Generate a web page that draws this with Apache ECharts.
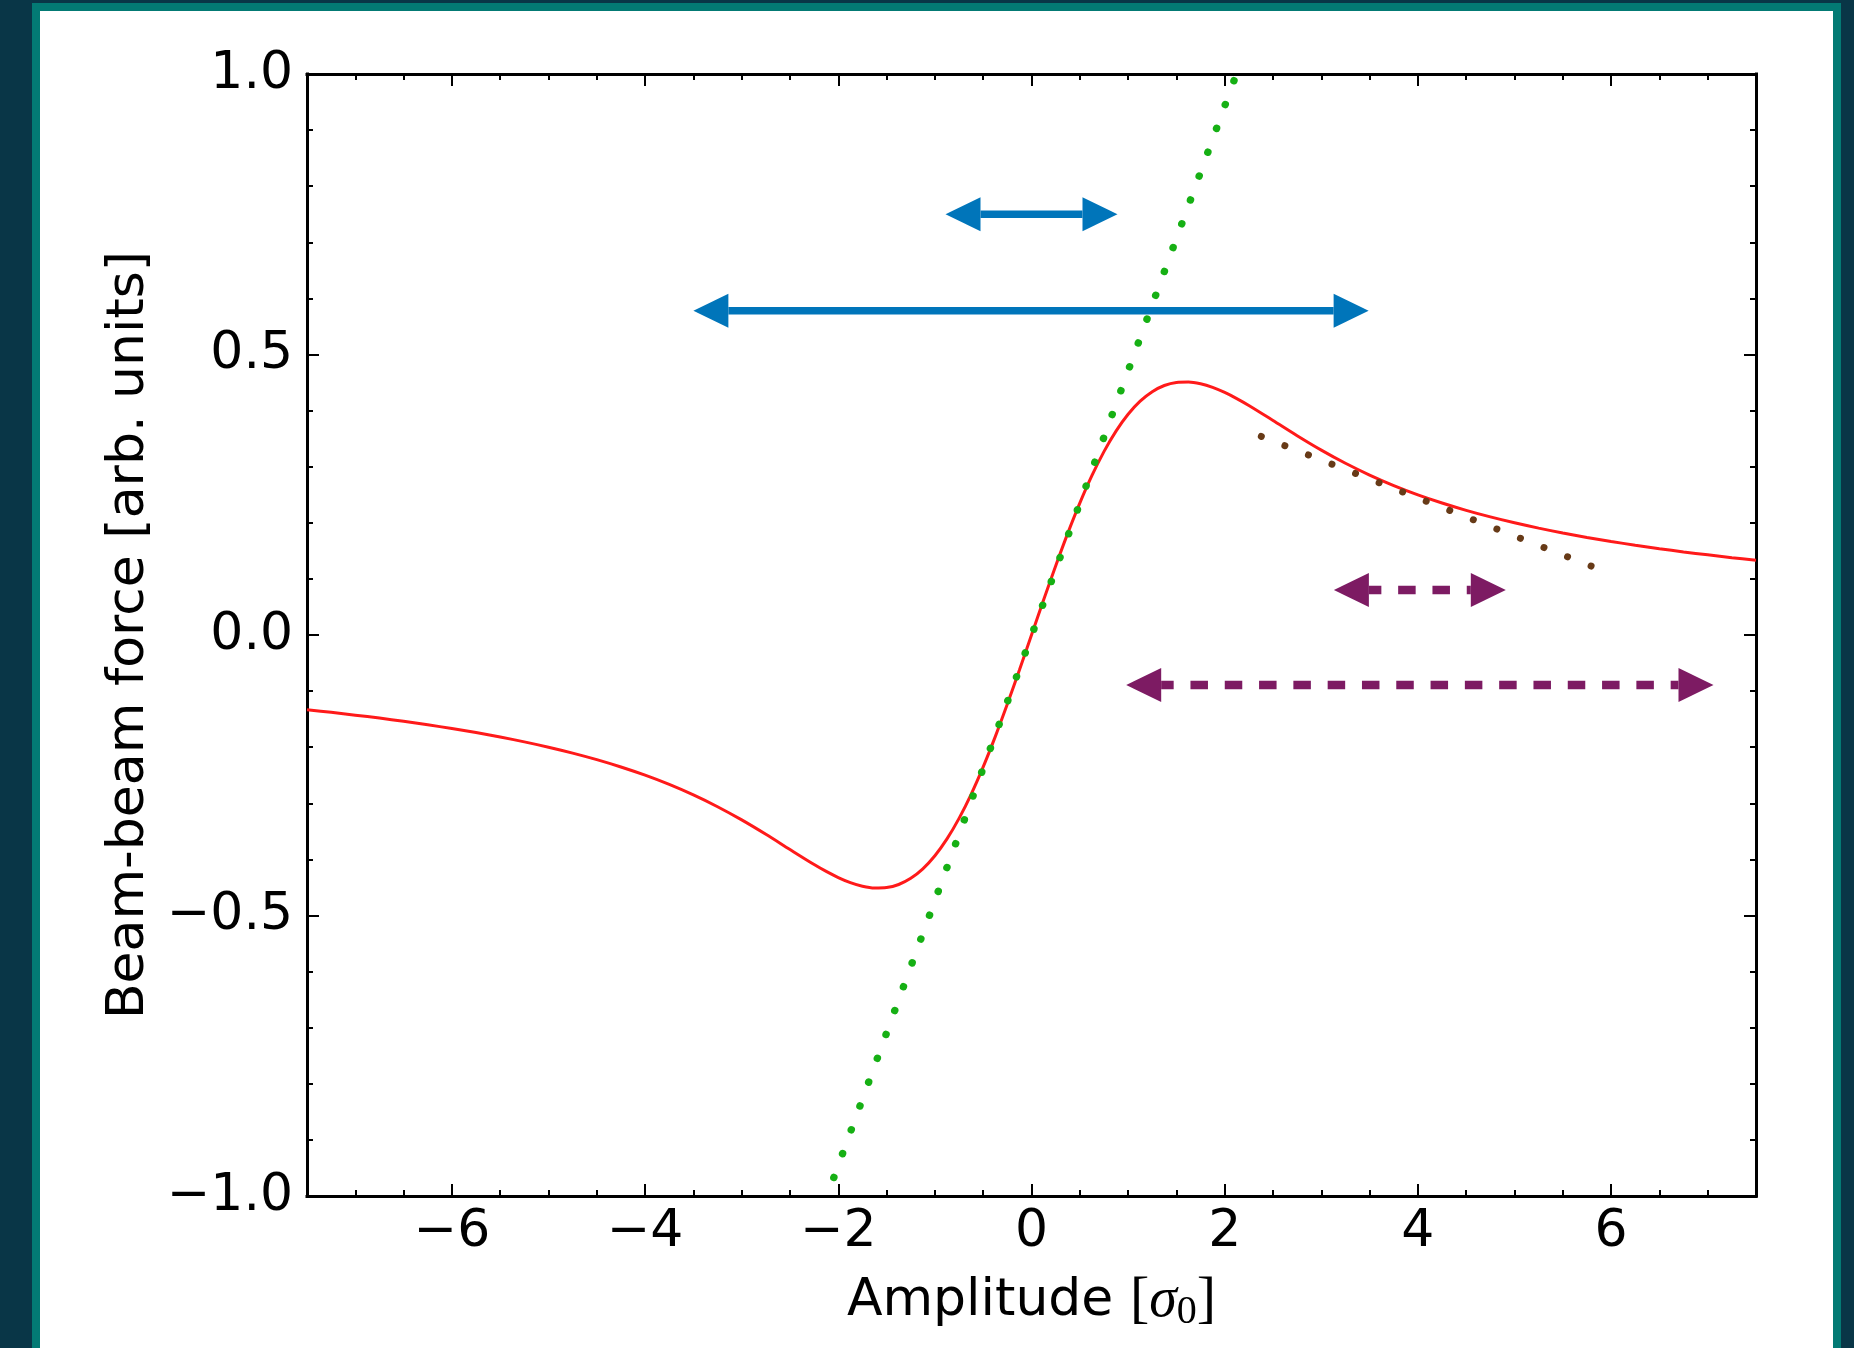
<!DOCTYPE html>
<html>
<head>
<meta charset="utf-8">
<script src="https://cdn.jsdelivr.net/npm/echarts@6/dist/echarts.min.js"></script>
<style>
  html, body { margin: 0; padding: 0; width: 1854px; height: 1348px; overflow: hidden; background: #093647; }
  #teal { position: absolute; left: 32px; top: 3px; width: 1809px; height: 1345px; background: #037a74; }
  #white { position: absolute; left: 40px; top: 11px; width: 1793px; height: 1337px; background: #ffffff; }
  #chart { position: absolute; left: 0; top: 0; width: 1854px; height: 1348px; }
</style>
</head>
<body>
<div id="teal"></div>
<div id="white"></div>
<div id="chart"></div>
<script>
// ---- data ----
const redX = [-7.5,-7.25,-7,-6.75,-6.5,-6.25,-6,-5.75,-5.5,-5.25,-5,-4.75,-4.5,-4.25,-4,-3.75,-3.5,-3.25,-3,-2.75,-2.5,-2.25,-2.125,-2,-1.875,-1.75,-1.625,-1.5,-1.375,-1.25,-1.125,-1,-0.875,-0.75,-0.625,-0.5,-0.375,-0.25,-0.125,0,0.125,0.25,0.375,0.5,0.625,0.75,0.875,1,1.125,1.25,1.375,1.5,1.625,1.75,1.875,2,2.125,2.25,2.5,2.75,3,3.25,3.5,3.75,4,4.25,4.5,4.75,5,5.25,5.5,5.75,6,6.25,6.5,6.75,7,7.25,7.5];
const redY = [-0.1333,-0.1379,-0.1429,-0.1481,-0.1538,-0.1600,-0.1667,-0.1739,-0.1818,-0.1905,-0.2000,-0.2105,-0.2222,-0.2353,-0.2499,-0.2664,-0.2851,-0.3061,-0.3296,-0.3553,-0.3824,-0.4091,-0.4214,-0.4323,-0.4414,-0.4478,-0.4510,-0.4502,-0.4447,-0.4337,-0.4168,-0.3935,-0.3635,-0.3269,-0.2839,-0.2350,-0.1811,-0.1231,-0.0623,0,0.0623,0.1231,0.1811,0.2350,0.2839,0.3269,0.3635,0.3935,0.4168,0.4337,0.4447,0.4502,0.4510,0.4478,0.4414,0.4323,0.4214,0.4091,0.3824,0.3553,0.3296,0.3061,0.2851,0.2664,0.2499,0.2353,0.2222,0.2105,0.2000,0.1905,0.1818,0.1739,0.1667,0.1600,0.1538,0.1481,0.1429,0.1379,0.1333];

const greenX = [-2.046, 2.100];
const greenY = [-0.967, 0.990];

const brownX = [2.379, 5.806];
const brownY = [0.354, 0.122];

// arrows: [left tip x, right tip x, y]
const blueArrows = [[-0.89, 0.89, 0.750], [-3.50, 3.49, 0.578]];
const purpleArrows = [[3.13, 4.91, 0.080], [0.98, 7.06, -0.089]];

const xMajorTicks = [-6, -4, -2, 0, 2, 4, 6];
const xTickLabels = ['\u22126', '\u22124', '\u22122', '0', '2', '4', '6'];
const yMajorTicks = [-1, -0.5, 0, 0.5, 1];
const yTickLabels = ['\u22121.0', '\u22120.5', '0.0', '0.5', '1.0'];

const yLabel = 'Beam-beam force [arb. units]';

// ---- chart ----
const FONT = "'DejaVu Sans', sans-serif";
const chart = echarts.init(document.getElementById('chart'), null, { renderer: 'canvas' });

function zip(xs, ys) { return xs.map((x, i) => [x, ys[i]]); }

const axisLineStyle = { color: '#000', width: 3, cap: 'square' };
const tickStyle = { color: '#000', width: 2 };

function xMajorAxis(pos, withLabels) {
  return {
    type: 'value', position: pos, min: -7.5, max: 7.5,
    axisLine: { show: true, onZero: false, lineStyle: axisLineStyle },
    axisTick: { show: true, inside: true, length: 12, customValues: xMajorTicks, lineStyle: tickStyle },
    axisLabel: {
      show: withLabels, customValues: xMajorTicks,
      formatter: v => { const i = xMajorTicks.indexOf(v); return i >= 0 ? xTickLabels[i] : ''; },
      fontFamily: FONT, fontSize: 52, color: '#000', margin: 10
    },
    splitLine: { show: false },
    name: withLabels ? '{a|Amplitude }{b|[}{s|\u03c3}{c|0}{b|]}' : '',
    nameLocation: 'middle', nameGap: 74,
    nameTextStyle: {
      rich: {
        a: { fontFamily: FONT, fontSize: 52, color: '#000' },
        b: { fontFamily: "'Liberation Serif', serif", fontSize: 58, color: '#000' },
        s: { fontFamily: "'Liberation Serif', serif", fontStyle: 'italic', fontSize: 56, color: '#000' },
        c: { fontFamily: "'Liberation Serif', serif", fontSize: 40, color: '#000', padding: [22, 0, 0, 0] }
      }
    }
  };
}
function xMinorAxis(pos) {
  return {
    type: 'value', position: pos, min: -7.5, max: 7.5, interval: 0.5,
    axisLine: { show: false, onZero: false },
    axisTick: { show: true, inside: true, length: 6, lineStyle: tickStyle },
    axisLabel: { show: false },
    splitLine: { show: false }
  };
}
function yAxisDef(pos, withLabels) {
  return {
    type: 'value', position: pos, min: -1, max: 1, interval: 0.5,
    axisLine: { show: true, onZero: false, lineStyle: axisLineStyle },
    axisTick: { show: true, inside: true, length: 12, lineStyle: tickStyle },
    minorTick: { show: true, splitNumber: 5, length: 6, lineStyle: tickStyle },
    axisLabel: {
      show: withLabels,
      formatter: v => { const i = yMajorTicks.findIndex(t => Math.abs(t - v) < 1e-9); return i >= 0 ? yTickLabels[i] : ''; },
      fontFamily: FONT, fontSize: 52, color: '#000', margin: 14
    },
    splitLine: { show: false },
    minorSplitLine: { show: false },
    name: withLabels ? yLabel : '',
    nameLocation: 'middle', nameGap: 150,
    nameTextStyle: { fontFamily: FONT, fontSize: 52, color: '#000' }
  };
}

function arrowRenderer(color, width, dash, dashOffset) {
  return function (params, api) {
    const x1 = api.value(0), x2 = api.value(1), y = api.value(2);
    const p1 = api.coord([x1, y]);
    const p2 = api.coord([x2, y]);
    const L = 35, H = 17;
    return {
      type: 'group',
      children: [
        { type: 'line', shape: { x1: p1[0] + L, y1: p1[1], x2: p2[0] - L, y2: p2[1] },
          style: { stroke: color, lineWidth: width, lineDash: dash, lineDashOffset: dashOffset, fill: null } },
        { type: 'polygon', shape: { points: [[p1[0], p1[1]], [p1[0] + L, p1[1] - H], [p1[0] + L, p1[1] + H]] },
          style: { fill: color } },
        { type: 'polygon', shape: { points: [[p2[0], p2[1]], [p2[0] - L, p2[1] - H], [p2[0] - L, p2[1] + H]] },
          style: { fill: color } }
      ]
    };
  };
}

const option = {
  animation: false,
  backgroundColor: 'transparent',
  grid: { left: 307, top: 74, right: 98, bottom: 152, containLabel: false },
  xAxis: [xMajorAxis('bottom', true), xMajorAxis('top', false), xMinorAxis('bottom'), xMinorAxis('top')],
  yAxis: [yAxisDef('left', true), yAxisDef('right', false)],
  series: [
    {
      type: 'line', name: 'force', xAxisIndex: 0, yAxisIndex: 0,
      data: zip(redX, redY), smooth: 0.3, symbol: 'none',
      lineStyle: { color: '#ff1a1a', width: 3 }, z: 2
    },
    {
      type: 'line', name: 'linear', xAxisIndex: 0, yAxisIndex: 0,
      data: zip(greenX, greenY), symbol: 'none',
      lineStyle: { color: '#16b014', width: 7.5, type: [0.01, 25.37], cap: 'round' }, z: 3
    },
    {
      type: 'line', name: 'tail', xAxisIndex: 0, yAxisIndex: 0,
      data: zip(brownX, brownY), symbol: 'none',
      lineStyle: { color: '#673a17', width: 7, type: [0.01, 25.3], cap: 'round' }, z: 3
    },
    {
      type: 'custom', name: 'blueArrows', xAxisIndex: 0, yAxisIndex: 0,
      data: blueArrows, encode: { x: [0, 1], y: 2 },
      renderItem: arrowRenderer('#0075ba', 7.5, null, 0), z: 4
    },
    {
      type: 'custom', name: 'purpleArrows', xAxisIndex: 0, yAxisIndex: 0,
      data: purpleArrows, encode: { x: [0, 1], y: 2 },
      renderItem: arrowRenderer('#7d1b63', 8.5, [17.5, 16.8], 5), z: 4
    }
  ]
};
chart.setOption(option);
</script>
</body>
</html>
